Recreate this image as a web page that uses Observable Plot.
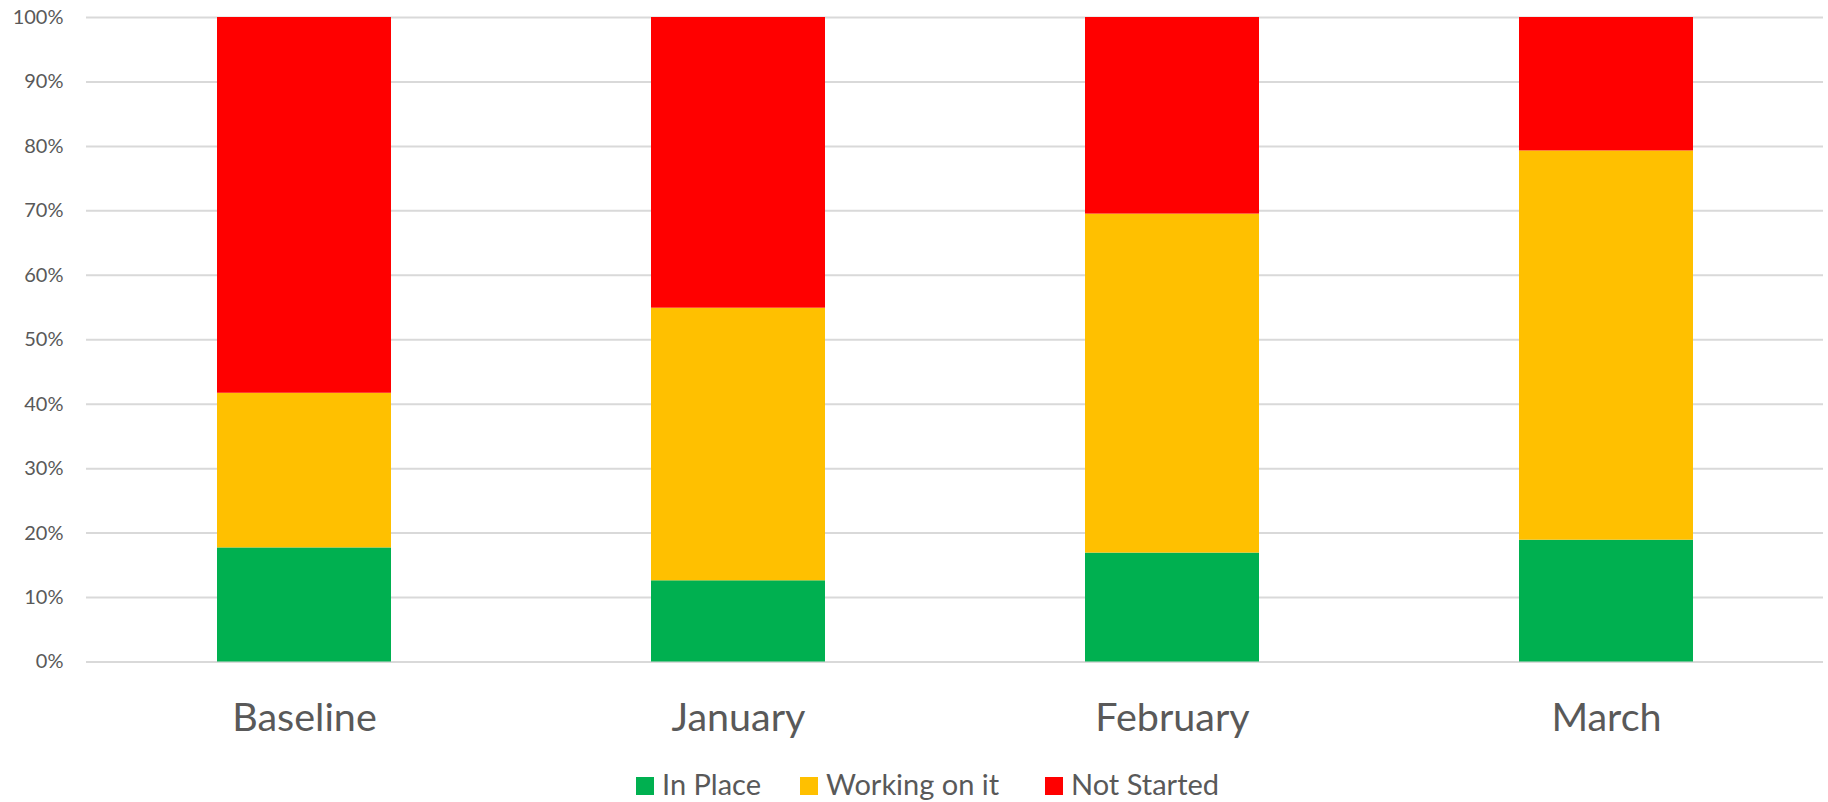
<!DOCTYPE html>
<html>
<head>
<meta charset="utf-8">
<script src="https://cdn.jsdelivr.net/npm/d3@7"></script>
<script src="https://cdn.jsdelivr.net/npm/@observablehq/plot@0.6"></script>
<style>
  html, body { margin: 0; padding: 0; background: #ffffff; }
  #wrap { position: relative; width: 1828px; height: 802px; font-family: Lato, "Open Sans", sans-serif; }
  .legend-item { position: absolute; top: 767px; display: flex; align-items: center; font-size: 29px; color: #595959; line-height: 34.8px; white-space: nowrap; }
  .legend-item span.sw { display: inline-block; width: 18px; height: 18px; margin-right: 8px; position: relative; top: 2px; }
</style>
</head>
<body>
<div id="wrap"></div>
<script>
// Progress status share by month, in percent
const categories = ["Baseline", "January", "February", "March"];
const statuses = ["In Place", "Working on it", "Not Started"];
const statusColors = ["#00B050", "#FFC000", "#FF0000"];
const inPlace = [17.7, 12.6, 16.9, 18.9];
const workingOnIt = [24.0, 42.3, 52.6, 60.4];
const notStarted = [58.3, 45.1, 30.5, 20.7];
const yTicks = [0, 10, 20, 30, 40, 50, 60, 70, 80, 90, 100];

const series = [inPlace, workingOnIt, notStarted];
const rows = [];
categories.forEach((c, i) => {
  statuses.forEach((s, j) => rows.push({category: c, status: s, value: series[j][i]}));
});

const chart = Plot.plot({
  width: 1828,
  height: 745,
  marginLeft: 86,
  marginRight: 5,
  marginTop: 17,
  marginBottom: 83.5,
  style: {fontFamily: "Lato, 'Open Sans', sans-serif", background: "#ffffff"},
  x: {domain: categories, paddingInner: 0.6, paddingOuter: 0.3, label: null},
  y: {domain: [0, 100], label: null},
  color: {domain: statuses, range: statusColors},
  marks: [
    Plot.ruleY(yTicks, {stroke: "#d9d9d9", strokeWidth: 2}),
    Plot.barY(rows, {x: "category", y: "value", fill: "status", order: statuses}),
    Plot.axisY({ticks: yTicks, tickFormat: d => d + "%", tickSize: 0, tickPadding: 23, fontSize: 20, color: "#595959"}),
    Plot.axisX({tickSize: 0, tickPadding: 41, fontSize: 39.5, color: "#595959"})
  ]
});

const wrap = document.getElementById("wrap");
wrap.appendChild(chart);

// Legend row below the plot
const legendLeft = [636, 800, 1045];
statuses.forEach((s, i) => {
  const item = document.createElement("div");
  item.className = "legend-item";
  item.style.left = legendLeft[i] + "px";
  const sw = document.createElement("span");
  sw.className = "sw";
  sw.style.background = statusColors[i];
  item.appendChild(sw);
  item.appendChild(document.createTextNode(s));
  wrap.appendChild(item);
});
</script>
</body>
</html>
